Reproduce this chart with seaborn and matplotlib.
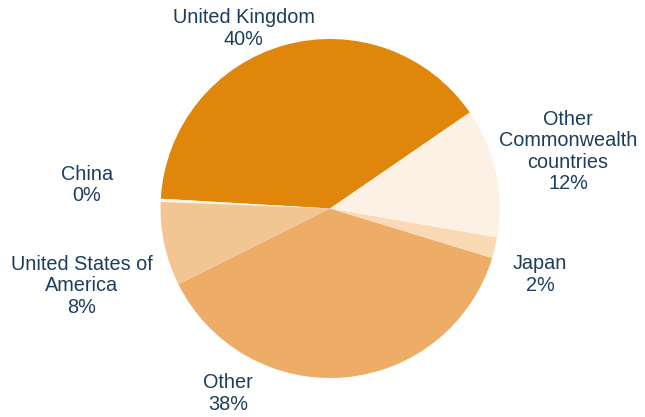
import matplotlib
matplotlib.use("Agg")
import matplotlib.pyplot as plt
import seaborn as sns

# Data
categories = ["United Kingdom", "China", "United States of America", "Other", "Japan",
              "Other Commonwealth countries"]
label_names = ["United Kingdom", "China", "United States of\nAmerica", "Other", "Japan",
               "Other\nCommonwealth\ncountries"]
values = [39.5, 0.3, 8.0, 37.9, 2.0, 12.3]
colors = ["#E0860A", "#FEF4EA", "#F2C592", "#EDAD67", "#F9DAB5", "#FDF1E6"]

sns.set_style("white")
plt.rcParams["font.family"] = ["Liberation Sans", "DejaVu Sans"]

fig = plt.figure(figsize=(6.45, 4.17), dpi=100)
ax = fig.add_axes([0, 0, 1, 1])

wedges, _ = ax.pie(values, colors=colors, startangle=34.5, counterclock=True,
                   radius=1.0, center=(0, 0), wedgeprops=dict(linewidth=0))

label_pos = [(-0.510, 1.062), (-1.434, 0.139), (-1.466, -0.457),
             (-0.602, -1.091), (1.239, -0.389), (1.404, 0.336)]
text_color = "#1C3D5E"
for name, v, (x, y) in zip(label_names, values, label_pos):
    ax.text(x, y, f"{name}\n{round(v):d}%", ha="center", va="center",
            fontsize=14.3, color=text_color, linespacing=1.15)

ax.set_xlim(-1.947, 1.858)
ax.set_ylim(-1.230, 1.230)
ax.set_aspect("auto")
ax.axis("off")

fig.savefig("out.png", dpi=100)
